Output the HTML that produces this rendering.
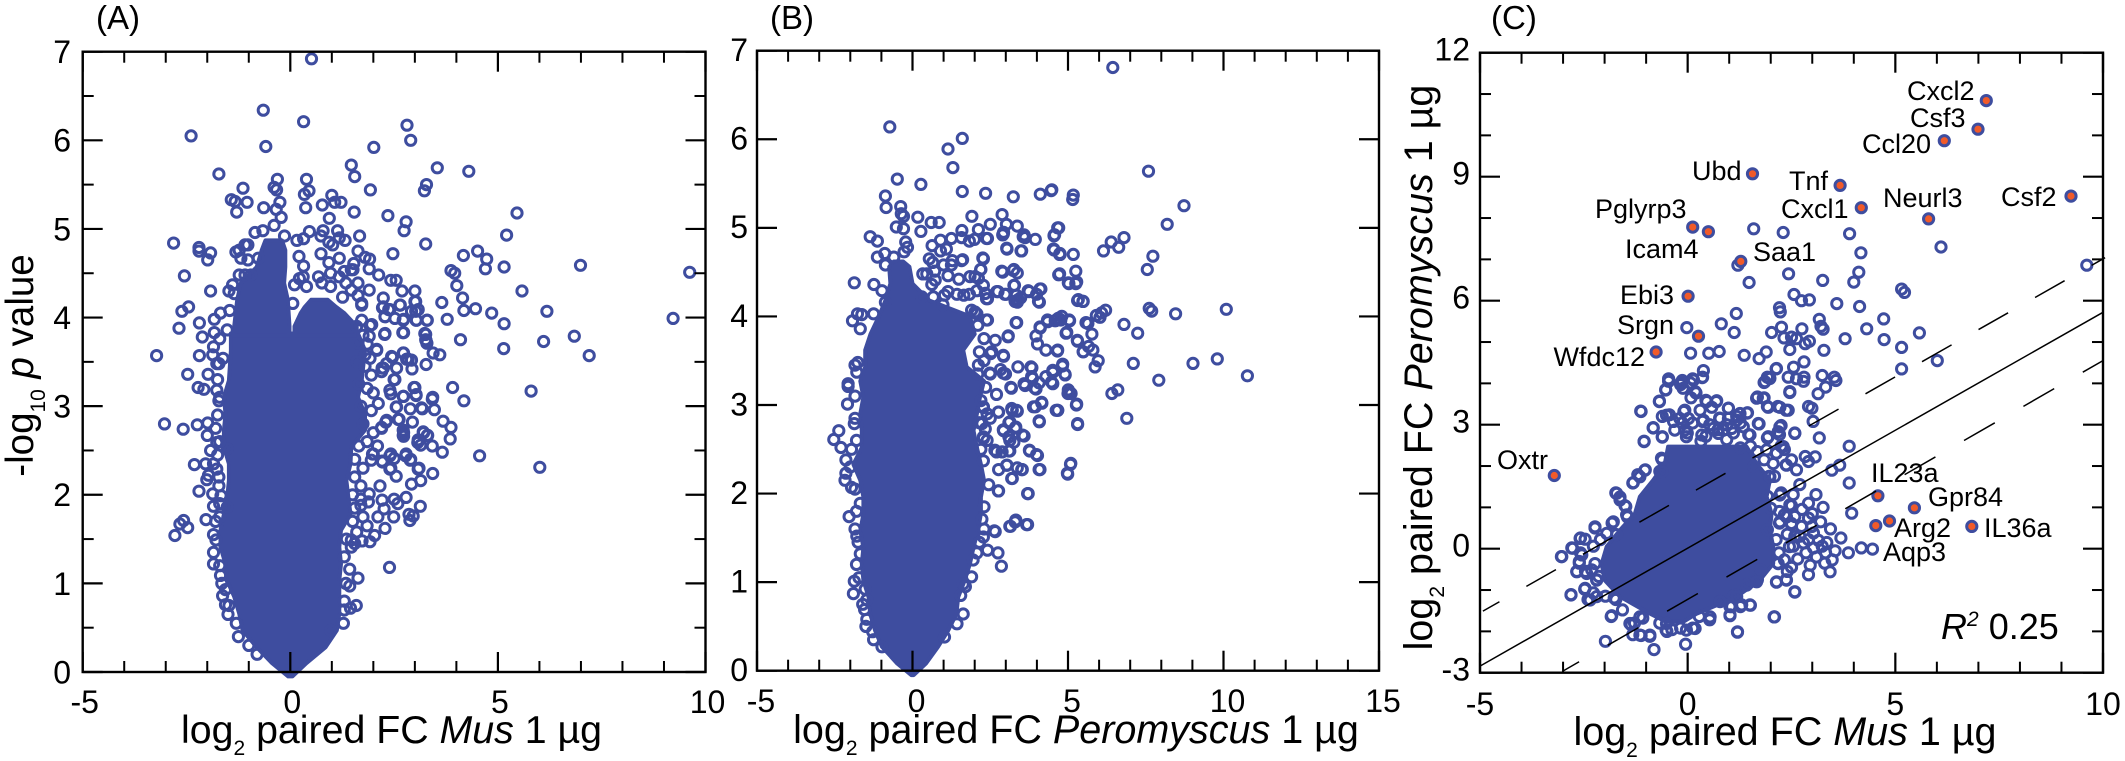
<!DOCTYPE html>
<html lang="en">
<head>
<meta charset="utf-8">
<title>Volcano and correlation plots</title>
<style>
html,body{margin:0;padding:0;background:#fff;}
svg{display:block;font-family:"Liberation Sans",sans-serif;fill:#000;}
</style>
</head>
<body>
<svg id="figure" xmlns="http://www.w3.org/2000/svg" width="2125" height="761" viewBox="0 0 2125 761">
  <rect x="0" y="0" width="2125" height="761" fill="#fff"/>
  <g id="marks"></g>

  <text x="96" y="29" font-size="33">(A)</text>
  <text x="770" y="29" font-size="33">(B)</text>
  <text x="1491" y="29" font-size="33">(C)</text>

  <text transform="rotate(-90 33 365.5)" x="33" y="365.5" text-anchor="middle" font-size="38.5">-log<tspan font-size="21" dy="12">10</tspan><tspan dy="-12"> </tspan><tspan font-style="italic">p</tspan> value</text>
  <text x="391.5" y="743" text-anchor="middle" font-size="39.3">log<tspan font-size="21" dy="12">2</tspan><tspan dy="-12"> paired FC </tspan><tspan font-style="italic">Mus</tspan> 1 µg</text>
  <text x="1076" y="743" text-anchor="middle" font-size="39.5">log<tspan font-size="21" dy="12">2</tspan><tspan dy="-12"> paired FC </tspan><tspan font-style="italic">Peromyscus</tspan> 1 µg</text>
  <text x="1785" y="745" text-anchor="middle" font-size="39.5">log<tspan font-size="21" dy="12">2</tspan><tspan dy="-12"> paired FC </tspan><tspan font-style="italic">Mus</tspan> 1 µg</text>
  <text transform="rotate(-90 1432 367.5)" x="1432" y="367.5" text-anchor="middle" font-size="39.5">log<tspan font-size="21" dy="12">2</tspan><tspan dy="-12"> paired FC </tspan><tspan font-style="italic">Peromyscus</tspan> 1 µg</text>

  <g font-size="27">
    <text x="1907" y="100">Cxcl2</text>
    <text x="1910" y="127">Csf3</text>
    <text x="1862" y="153">Ccl20</text>
    <text x="1692" y="180">Ubd</text>
    <text x="1789" y="190">Tnf</text>
    <text x="1781" y="218">Cxcl1</text>
    <text x="1883" y="207">Neurl3</text>
    <text x="2001" y="206">Csf2</text>
    <text x="1595" y="218">Pglyrp3</text>
    <text x="1625" y="258">Icam4</text>
    <text x="1753" y="261">Saa1</text>
    <text x="1620" y="304">Ebi3</text>
    <text x="1617" y="334">Srgn</text>
    <text x="1645" y="366" text-anchor="end">Wfdc12</text>
    <text x="1497" y="469">Oxtr</text>
    <text x="1871" y="482">IL23a</text>
    <text x="1928" y="506">Gpr84</text>
    <text x="1894" y="537">Arg2</text>
    <text x="1984" y="537">IL36a</text>
    <text x="1883" y="561">Aqp3</text>
  </g>
  <text x="1941" y="639" font-size="36"><tspan font-style="italic">R</tspan><tspan font-style="italic" font-size="21" dy="-13">2</tspan><tspan dy="13"> 0.25</tspan></text>
</svg>

<script>
// ---- Panel A: Mus volcano, individually resolved points ----
const panelAX = [
 .51,-.65,.32,-2.39,-.59,2.81,2.9,2.01,1.47,1.55,
 3.54,4.3,-1.72,-.31,.39,-1.14,-.39,-.33,.45,.34,
 1.93,3.28,3.23,1.0,-1.42,-1.33,-1.04,-.25,1.07,1.22,
 .77,-.64,-.34,.37,-1.29,1.54,2.35,-.22,.94,5.46,
 2.79,2.74,-.39,5.21,-.85,-.66,.46,.79,1.14,.74,
 -.14,.16,.32,1.18,1.32,.93,1.02,1.67,3.26,-2.81,
 -2.2,-2.2,-1.92,-1.99,1.63,2.47,.74,.21,4.51,4.17,
 4.73,4.7,5.15,1.18,1.8,1.91,.93,1.53,.32,1.9,
 1.47,3.87,3.96,-2.55,2.13,2.42,2.55,4.01,2.69,3.0,
 5.58,-1.92,1.63,1.9,4.15,2.24,3.65,3.02,2.65,2.22,
 2.37,3.02,4.18,4.46,4.85,-2.45,-2.61,3.29,3.78,5.15,
 2.73,3.04,2.28,-2.19,-1.83,-2.68,-1.83,-2.12,-1.7,2.73,
 3.26,2.27,4.1,3.26,3.29,-1.85,5.14,2.08,-3.22,-2.19,
 -1.87,3.44,3.6,2.73,2.46,2.84,2.56,2.93,3.27,-2.47,
 -1.98,-1.72,2.5,6.99,9.62,6.18,9.22,6.1,6.84,7.2,
 5.8,6.01,4.56,-3.03,-2.58,-2.24,-1.99,-2.0,-1.77,-1.92,
 -1.52,-2.22,-2.08,-1.77,-1.72,3.91,4.18,3.42,3.0,3.03,
 2.73,2.42,2.55,2.89,3.18,3.47,3.68,3.87,3.85,2.6,
 2.94,2.3,2.2,2.73,2.73,3.21,3.31,3.07,3.14,3.42,
 3.66,1.98,1.95,2.21,2.4,2.5,2.78,2.89,3.08,2.4,
 2.55,3.43,3.14,2.92,2.16,1.9,2.79,2.5,2.21,2.59,
 1.88,2.26,3.13,1.7,2.49,2.86,2.96,2.88,2.11,2.28,
 2.03,1.92,1.73,1.47,1.47,2.39,1.63,1.43,1.34,1.43,
 1.59,1.45,1.28,.97,-2.31,-2.04,-1.85,-2.01,-1.97,-1.77,
 -1.72,-2.2,-1.87,-1.67,-1.85,-1.52,-1.7,-2.03,-2.57,-2.66,
 -2.47,-2.78,-1.79,-1.85,-1.68,-1.56,-1.63,-1.56,-1.48,.39,
 .31,.76,.97,1.18,1.3,1.51,1.63,1.72,1.47,.22,
 .1,.68,.97,1.26,.06,1.34,-1.23,-1.09,-1.02,-1.31,
 -1.19,-1.02,-.77,-1.23,-1.09,-.95,-1.39,-1.48,-1.35,-1.46,
 -1.68,-1.52,-1.62,-1.77,1.92,1.72,1.63,1.8,1.92,2.21
];
const panelAY = [
 6.92,6.34,6.21,6.05,5.93,6.17,6.0,5.92,5.72,5.59,
 5.69,5.65,5.62,5.56,5.56,5.46,5.47,5.44,5.43,5.39,
 5.44,5.5,5.43,5.38,5.33,5.31,5.3,5.3,5.3,5.3,
 5.27,5.24,5.22,5.24,5.19,5.19,5.15,5.13,5.12,5.18,
 5.08,4.98,5.04,4.93,4.96,4.98,4.97,4.98,4.98,4.92,
 4.92,4.87,4.89,4.9,4.87,4.85,4.82,4.92,4.83,4.84,
 4.79,4.75,4.73,4.65,4.75,4.72,4.72,4.69,4.75,4.7,
 4.66,4.55,4.57,4.67,4.68,4.66,4.62,4.61,4.58,4.55,
 4.54,4.53,4.5,4.47,4.48,4.42,4.42,4.36,4.3,4.3,
 4.3,4.3,4.39,4.31,4.22,4.22,4.17,4.18,4.14,4.11,
 4.09,4.07,4.08,4.1,4.05,4.12,4.07,3.97,3.98,3.93,
 3.98,3.97,4.01,3.94,3.98,3.88,3.83,3.78,3.76,3.83,
 3.81,3.81,3.75,3.75,3.71,3.67,3.65,3.63,3.57,3.57,
 3.58,3.6,3.58,3.6,3.55,3.53,3.43,3.42,3.47,3.36,
 3.36,3.48,3.3,4.59,4.51,4.07,3.99,3.73,3.79,3.57,
 3.17,2.31,2.44,2.8,2.74,2.79,2.81,2.67,2.59,2.5,
 2.52,3.21,3.19,3.18,3.06,3.21,3.06,3.08,3.21,3.12,
 3.11,3.14,2.99,2.97,2.97,2.96,2.83,2.76,2.63,2.85,
 2.82,2.82,2.75,2.7,2.66,2.7,2.67,2.59,2.56,2.55,
 2.48,2.46,2.39,2.38,2.44,2.41,2.44,2.39,2.29,2.29,
 2.21,2.24,2.16,2.12,2.1,2.01,1.97,1.95,1.94,1.9,
 1.92,1.84,1.87,1.88,1.75,1.78,1.76,1.71,1.75,1.62,
 1.54,1.47,1.48,1.41,1.49,1.18,1.06,1.16,1.0,.97,
 .75,.72,.55,.47,2.34,2.35,2.35,2.17,2.22,2.29,
 2.1,2.04,2.01,1.99,1.87,1.86,1.75,1.72,1.71,1.67,
 1.63,1.54,1.49,1.22,1.09,.93,.86,.76,.75,4.35,
 4.46,4.39,4.5,4.46,4.52,4.54,4.25,4.16,4.31,4.44,
 4.37,4.46,4.35,4.23,4.16,4.39,4.76,4.82,4.82,4.74,
 4.67,4.65,4.67,4.48,4.48,4.48,4.37,4.3,4.27,4.08,
 4.05,3.86,3.54,3.48,3.91,3.97,3.71,3.58,3.54,3.43
];
// Panel A: further points read along the crowded right and left flanks
const panelAFlankX = [
 1.72,2.24,2.4,2.28,2.52,2.72,2.92,3.08,3.03,2.64,
 3.0,3.3,1.96,1.9,2.28,2.71,3.24,3.27,2.08,2.44,
 2.72,2.8,2.92,2.24,2.32,2.52,2.2,2.98,3.03,2.4,
 2.72,2.12,2.56,3.16,3.43,2.32,2.62,2.2,2.72,2.72,
 3.2,3.3,3.08,2.0,2.22,2.42,2.79,2.9,3.1,2.42,
 1.6,1.75,1.85,1.6,1.8,1.95,1.65,1.85,2.0,1.7,
 1.95,1.75,2.0,1.85,2.1,1.65,1.55,1.75,1.55,1.7,
 1.5,1.7,1.55,1.75,1.5,1.85,1.6,1.35,1.55,1.3,
 -1.75,-1.7,-1.75,-1.8,-1.7,-1.75,-1.72,-1.7,-1.8,-1.85,
 -1.85,-1.7,-1.65,-1.5,-1.3,-1.25,-1.0,-.8,1.3,1.3
];
const panelAFlankY = [
 4.14,4.12,4.09,4.01,3.99,3.97,4.07,4.09,3.97,4.14,
 4.18,3.97,3.92,3.79,3.82,3.83,3.82,3.74,3.64,3.56,
 3.6,3.53,3.52,3.43,3.48,3.3,3.39,3.21,3.13,3.18,
 3.11,3.03,2.99,2.98,3.1,2.84,2.85,2.76,2.73,2.67,
 2.71,2.67,2.62,2.46,2.37,2.46,2.46,2.4,2.3,2.3,
 3.9,3.8,3.7,3.5,3.45,3.35,3.25,3.2,3.15,3.0,
 2.95,2.8,2.7,2.6,2.55,2.55,2.4,2.3,2.2,2.1,
 2.0,1.95,1.85,1.75,1.7,1.65,1.58,1.5,1.45,1.3,
 3.3,3.1,2.9,2.75,2.6,2.45,2.2,1.9,1.7,1.55,
 1.35,1.2,1.0,.65,.55,.4,.3,.2,.8,.7
];
// Panel A: outline of the saturated core (y level, left x, right x)
const coreAY     = [-.05,.1,.28,.47,.66,.85,1.03,1.22,1.41,1.6,1.78,1.97,2.16,2.35,2.54,2.73,2.91,3.1,3.29,3.63,3.82];
const coreALeft  = [-.05,-.44,-.81,-1.15,-1.23,-1.35,-1.52,-1.56,-1.68,-1.68,-1.6,-1.52,-1.48,-1.48,-1.6,-1.6,-1.56,-1.6,-1.48,-1.43,-1.43];
const coreARight = [.05,.39,.85,1.12,1.18,1.18,1.18,1.22,1.18,1.22,1.45,1.4,1.35,1.45,1.47,1.8,1.8,1.63,1.72,1.8,1.63];
const lobeA1Y     = [3.8,3.9,4.2,4.39,4.57,4.76,4.87];
const lobeA1Left  = [-1.4,-1.35,-1.28,-1.19,-.81,-.69,-.6];
const lobeA1Right = [-.02,-.02,-.06,-.15,-.12,-.12,-.2];
const lobeA2Y     = [3.8,3.9,4.05,4.12,4.2];
const lobeA2Left  = [.1,.1,.25,.35,.5];
const lobeA2Right = [1.6,1.6,1.3,1.1,.9];

// ---- Panel B: Peromyscus volcano ----
const panelBX = [
 -.73,1.6,1.14,1.3,-.49,.27,1.6,2.35,3.24,4.11,
 4.46,-.87,-.85,-.38,-.36,-.29,.17,.6,.86,1.91,
 2.88,2.5,3.02,3.37,-.52,-.29,.27,1.59,2.12,2.93,
 2.9,2.41,3.59,3.62,3.95,4.67,4.57,-1.36,-1.13,1.25,
 1.58,1.83,1.99,.9,.63,-.22,-.16,-.27,1.09,.9,
 3.04,3.51,4.54,4.73,-.89,-1.13,-.6,-.87,.54,.65,
 2.28,1.58,1.28,1.0,1.25,2.2,.33,.46,.71,1.14,
 2.9,3.26,3.37,4.73,1.85,1.49,2.12,.73,.62,2.28,
 3.28,-1.87,-1.24,-.98,4.13,1.14,1.43,1.65,1.83,2.07,
 2.34,2.75,3.01,3.75,3.99,2.41,.3,.67,1.03,3.34,
 3.48,3.37,4.08,-.87,.98,1.9,2.07,2.41,-1.77,-1.63,
 -1.93,-1.68,-1.25,3.35,4.35,4.62,4.11,3.97,4.02,4.29,
 4.67,3.07,2.66,2.55,2.93,-1.76,-1.79,3.39,3.84,4.51,
 2.12,2.83,2.5,2.99,4.29,3.86,-2.07,-2.07,-2.09,-1.87,
 -2.37,-2.53,-2.3,-1.96,-2.14,-2.14,-2.17,-1.96,-1.68,-2.04,
 -1.79,-1.68,-1.87,-1.9,-1.52,-1.47,-1.54,-1.47,-1.28,-.98,
 3.18,3.62,3.97,2.7,2.28,2.77,3.21,3.37,3.95,4.16,
 4.62,4.08,2.5,2.23,3.1,3.32,3.59,2.34,2.28,2.93,
 3.1,3.26,2.7,2.88,3.13,3.77,4.02,4.1,3.53,3.37,
 3.04,2.77,3.21,2.77,3.72,2.23,2.66,3.15,3.32,3.7,
 2.28,2.41,2.75,2.86,2.07,1.9,1.63,1.63,1.43,1.03,
 2.28,6.44,7.59,4.48,5.17,5.15,8.73,8.19,4.7,4.55,
 6.8,6.39,6.63,6.14,4.55,4.75,5.17,7.73,7.55,5.25,
 4.7,5.03,5.25,5.31,5.48,7.61,7.69,8.46,10.09,6.21,
 6.08,5.91,6.03,4.59,4.77,5.05,5.64,6.8,7.24,4.94,
 5.77,5.31,5.8,5.66,5.49,4.66,5.97,5.87,7.1,4.82,
 4.91,4.51,9.02,9.8,10.77,7.92,5.03,5.0,6.41,6.6,
 5.27,4.67,6.89,5.31,5.08,4.99,4.51
];
const panelBY = [
 6.14,6.01,5.89,5.68,5.55,5.49,5.41,5.39,5.35,5.38,
 5.42,5.36,5.23,5.24,5.16,5.13,5.12,5.06,5.06,5.13,
 5.15,5.04,5.04,5.02,5.01,4.99,4.96,4.97,4.98,4.95,
 4.92,4.88,4.92,4.89,4.87,5.0,4.92,4.9,4.85,4.88,
 4.89,4.85,4.87,4.86,4.8,4.84,4.78,4.73,4.76,4.74,
 4.76,4.74,4.76,4.7,4.71,4.67,4.67,4.58,4.65,4.61,
 4.65,4.63,4.63,4.58,4.58,4.53,4.48,4.48,4.51,4.46,
 4.5,4.53,4.49,4.48,4.45,4.42,4.43,4.41,4.36,4.35,
 4.35,4.38,4.36,4.29,4.31,4.28,4.25,4.24,4.25,4.29,
 4.26,4.28,4.25,4.28,4.25,4.2,4.22,4.22,4.24,4.24,
 4.21,4.16,4.16,4.16,4.13,4.07,4.03,3.96,4.03,4.02,
 3.95,3.86,4.03,3.93,3.94,3.96,3.87,3.78,3.69,3.62,
 3.62,3.77,3.73,3.6,3.55,3.48,3.37,3.43,3.42,3.37,
 3.45,3.4,3.35,3.35,3.32,3.3,3.24,3.21,3.01,2.79,
 2.71,2.61,2.52,2.5,2.38,2.23,2.15,2.07,1.89,1.74,
 1.52,1.32,1.01,.87,.92,.8,.69,.58,.44,.27,
 3.19,3.22,3.18,3.12,2.97,2.92,2.94,2.93,2.98,3.02,
 2.94,2.81,2.85,2.79,2.8,2.75,2.65,2.73,2.62,2.71,
 2.64,2.58,2.47,2.47,2.48,2.48,2.43,2.27,2.27,2.29,
 2.32,2.27,2.17,2.03,2.0,1.71,1.57,1.63,1.7,1.65,
 1.51,1.36,1.33,1.18,1.33,1.06,.98,.64,.53,.38,
 2.37,6.81,5.64,5.43,5.37,5.32,5.25,5.04,5.0,4.91,
 4.89,4.84,4.78,4.74,4.75,4.7,4.7,4.68,4.53,4.51,
 4.47,4.37,4.37,4.18,4.17,4.09,4.06,4.03,4.08,4.07,
 4.04,4.01,3.99,3.95,3.96,3.95,3.92,3.91,3.81,3.81,
 3.8,3.72,3.62,3.66,3.6,3.61,3.5,3.43,3.47,3.44,
 3.34,3.37,3.47,3.52,3.33,3.28,3.14,3.13,3.13,3.17,
 3.0,2.94,2.85,2.78,2.33,2.22,3.24
];
// Panel B: further points read along the crowded flanks
const panelBFlankX = [
 2.38,2.92,3.56,3.03,3.49,4.56,4.53,4.74,2.26,1.61,
 2.19,2.87,3.24,5.01,5.28,3.26,2.01,2.38,2.71,2.97,
 3.72,4.1,4.05,3.4,3.3,5.33,5.49,2.01,2.38,3.33,
 3.08,2.92,4.34,4.1,4.69,4.8,5.04,4.96,5.58,5.3,
 5.49,3.81,2.51,2.49,2.92,3.16,3.59,3.94,4.07,4.51,
 4.83,4.9,4.47,3.83,5.01,5.1,5.28,5.31,4.67,3.89,
 4.15,4.07,2.76,3.19,3.35,2.28,3.13,3.3,3.54,2.92,
 3.13,2.28,2.65,3.1,3.76,3.99,4.07,3.03,3.19,3.51,
 2.76,3.7,5.09,4.98,3.13,3.3,3.67,2.63,2.1,2.3,
 2.15,2.3,2.1,2.35,2.2,2.4,2.15,2.4,2.2,-1.85,
 -1.85,-1.85,-1.8,-2.0,-1.85,-1.8,-1.85,-1.75,-1.8,-1.72,
 -1.6,-1.5,-1.25,1.55,1.7,1.95,2.15,2.3,2.3,2.45
];
const panelBFlankY = [
 4.88,4.93,4.9,4.77,4.74,4.92,4.76,4.71,4.66,4.64,
 4.53,4.51,4.52,4.38,4.39,4.35,4.45,4.2,4.28,4.25,
 4.29,4.31,4.17,4.19,4.17,4.19,4.17,4.05,3.96,3.93,
 3.78,3.56,3.96,3.88,3.98,4.0,3.96,3.82,3.93,3.73,
 3.6,3.43,3.58,3.36,3.36,3.2,3.24,3.19,3.25,3.39,
 3.46,3.35,3.26,3.32,3.17,3.13,3.01,2.79,2.94,2.98,
 3.03,2.82,2.92,2.96,2.94,2.98,2.81,2.74,2.66,2.72,
 2.6,2.64,2.49,2.48,2.49,2.44,2.27,2.32,2.17,2.27,
 2.03,2.0,2.34,2.23,1.63,1.68,1.65,1.58,3.9,3.75,
 3.6,3.5,3.35,3.2,3.05,2.9,2.8,2.6,2.5,3.45,
 3.1,2.85,2.6,2.3,2.05,1.8,1.6,1.45,1.2,1.05,
 .75,.5,.35,.85,.95,1.25,1.45,1.6,1.85,2.1
];
const coreBY     = [-.05,.08,.27,.45,.64,.83,1.02,1.21,1.39,1.58,1.77,1.96,2.15,2.33,2.52,2.71,2.9,3.09,3.27,3.43,3.62,3.8,4.0,4.18,4.37,4.56,4.62];
const coreBLeft  = [-.04,-.49,-.98,-1.2,-1.36,-1.41,-1.58,-1.63,-1.58,-1.68,-1.58,-1.58,-1.68,-1.9,-1.63,-1.63,-1.68,-1.58,-1.68,-1.52,-1.52,-1.35,-1.08,-.87,-.71,-.75,-.6];
const coreBRight = [.04,.43,.82,1.14,1.41,1.47,1.68,1.85,1.96,2.1,2.2,2.2,2.3,2.2,2.07,1.96,2.07,2.17,2.3,1.74,1.63,2.0,1.85,.54,0,-.1,-.3];

// ---- Panel C: Mus vs Peromyscus ----
const panelCX = [
 1.59,2.3,3.9,4.17,6.1,9.61,1.21,4.12,4.0,2.43,
 3.25,1.48,2.56,2.74,2.93,3.59,4.14,5.15,5.22,2.21,
 2.23,1.17,4.72,3.17,.81,-.02,1.12,2.26,2.75,3.21,
 3.26,4.31,5.58,2.02,2.5,2.32,2.62,2.93,2.83,3.79,
 4.73,5.15,2.46,3.28,.07,.51,.76,1.36,1.89,1.72,
 6.01,2.8,5.15,.38,2.55,2.13,3.24,3.53,2.8,-.46,
 -.13,.12,.36,1.92,2.42,2.62,-.46,-.17,.07,1.84,
 2.46,2.79,3.14,3.32,3.57,-.53,-.68,.2,.44,.69,
 1.68,1.84,1.92,2.17,2.37,2.91,2.99,3.02,-1.12,.98,
 1.43,-.61,-.44,-.09,1.18,1.72,2.25,2.58,3.17,-.83,
 -1.05,-.61,1.1,1.47,1.92,3.89,2.13,2.33,2.83,3.07,
 3.66,3.47,-.61,-1.02,-1.2,-1.32,-.67,2.5,2.91,2.37,
 2.62,2.09,3.89,2.7,2.54,3.09,2.25,-1.73,-1.63,-1.51,
 -1.47,2.91,3.26,2.5,3.95,2.0,2.33,2.58,2.91,2.21,
 2.5,2.74,3.44,-1.82,-2.23,-1.71,3.69,3.03,2.79,3.03,
 4.18,4.45,3.87,3.32,3.48,2.54,2.33,2.5,3.3,3.43,
 2.91,2.37,2.14,2.58,1.68,1.47,1.14,1.51,1.27,1.02,
 1.02,2.09,.53,1.2,.12,-.17,-.5,-.05,-.81,-.91,
 -1.12,-1.32,-1.36,-1.98,-1.84,-2.27,-1.77,-2.19,-3.04,-2.79,
 -2.58,-2.61,-2.58,-2.67,-2.46,-2.81,-2.48,-2.4,-.13,-.01,
 -.34,.12,.36,.53,.77,.44,.73,.94,1.27,1.51,
 1.68,2.25,2.21,.32,.94,1.27,1.84,1.96,1.59,-2.1,
 -2.27,-2.31,-2.14,-1.98,-1.73,-1.57,-1.28,-1.08,-.67,-.38,
 .28,.77,1.1,1.76,2.17,2.13,2.58,2.91,3.24,2.99,
 1.92,2.21,1.92
];
const panelCY = [
 7.74,7.65,7.62,7.16,7.3,6.86,6.86,6.69,6.45,6.65,
 6.49,6.44,6.15,6.0,6.02,5.93,5.86,6.28,6.2,5.83,
 5.73,5.69,5.56,5.55,5.44,5.35,5.23,5.36,5.32,5.38,
 5.31,5.32,5.22,5.23,5.12,5.1,5.08,5.02,4.96,5.08,
 5.06,4.87,4.82,4.8,4.73,4.73,4.77,4.68,4.76,4.6,
 4.55,4.52,4.35,4.31,4.39,4.35,4.19,4.15,4.15,4.11,
 4.07,4.11,4.15,4.15,4.15,4.11,4.05,3.97,4.01,4.02,
 3.78,4.05,3.75,3.91,4.07,3.85,3.56,3.77,3.59,3.56,
 3.67,3.65,3.44,3.44,3.35,3.44,3.4,3.08,3.32,3.4,
 3.28,3.2,3.24,3.32,3.2,3.02,2.98,2.8,2.68,2.92,
 2.6,2.7,2.8,2.76,2.68,2.48,2.31,2.4,2.23,2.22,
 2.02,1.9,2.15,1.91,1.79,1.59,1.87,2.15,2.11,2.03,
 1.91,1.75,1.59,1.55,1.31,1.31,1.35,1.35,1.25,1.04,
 .82,1.1,1.0,1.04,.86,.98,.82,.78,.74,.62,
 .58,.54,.48,.62,.5,.34,.26,.38,.14,.02,
 .02,-.01,-.1,-.1,-.27,.06,-.27,-.45,-.35,-.56,
 -.63,-.75,-.81,-1.05,-.75,-.83,-1.11,-1.37,-1.4,-1.4,
 -1.62,-1.65,-1.72,-2.02,-1.92,-1.92,-2.0,-2.31,-2.44,-2.12,
 -2.1,-2.08,-1.84,-2.24,-1.64,-1.07,-1.19,-.75,-.19,.02,
 .26,-.31,-.1,-.55,-.55,-1.11,-.98,-1.23,3.04,2.8,
 3.08,3.04,3.08,3.0,3.16,2.72,2.88,3.0,3.04,2.48,
 2.35,2.48,2.76,2.6,2.64,2.44,2.15,1.75,1.99,.22,
 .06,-.51,-.67,-1.15,-1.23,-1.48,-1.8,-1.68,-1.8,-1.96,
 -1.64,-1.27,-1.15,-.51,-.35,.22,.3,.22,.06,.54,
 .46,.9,1.27
];
// Panel C: further points read around the crowded core
const panelCRimX = [
 .35,.14,-.15,-.11,-.45,-.53,.18,.08,-.68,.46,
 .7,.58,.98,-1.13,1.26,1.44,-.51,-.07,-.19,.02,
 .3,.38,.78,.98,1.18,1.7,-.83,-.31,-.07,.62,
 .86,1.06,1.34,-.61,-1.05,-.03,.34,.74,1.5,1.94,
 2.22,2.18,-.63,-.61,-1.03,-1.15,-1.31,-1.71,-1.63,-1.49,
 -1.45,-1.79,-2.23,-2.59,-2.47,-2.77,-3.03,-2.55,-2.61,-2.67,
 -2.43,-2.47,-2.81,-2.35,-2.19,-2.19,-2.23,-1.95,-1.83,-1.39,
 -1.15,-1.15,-.91,-.52,-.51,-.03,.18,.54,1.02,1.2,
 2.08,1.5,1.3,1.06,1.18,.78,1.42,1.66,2.14,2.38,
 2.58,2.5,2.18,2.46,2.38,2.22,2.5,2.22,2.06,2.38,
 2.14,2.3,1.9,1.98,1.66,1.82,1.94,2.22,2.42,1.86,
 1.98,2.14,2.46,2.58,2.75,3.0,2.4,2.7,3.15,2.85,
 3.1,2.65,2.2,2.45,3.2,3.35,3.55,2.95,2.4
];
const panelCRimY = [
 4.14,4.08,4.02,3.88,4.07,3.84,3.8,3.65,3.57,3.56,
 3.58,3.42,3.4,3.33,3.27,3.29,3.23,3.35,3.15,3.15,
 3.35,3.11,3.15,3.15,3.11,3.03,2.93,2.87,2.87,2.91,
 2.87,2.91,2.95,2.71,2.59,2.71,2.75,2.79,2.75,2.71,
 2.95,2.83,2.19,1.86,1.9,1.74,1.6,1.34,1.18,1.02,
 .77,.65,.53,.25,.23,.01,-.19,-.15,-.35,-.56,
 -.6,-.96,-1.12,-1.24,-1.16,-.76,-.36,.37,-1.62,-1.81,
 -1.65,-2.09,-2.09,-1.97,-1.81,-1.97,-1.93,-1.65,-1.6,-2.01,
 -1.65,-1.36,-1.36,-1.4,-1.16,-1.28,-.88,-.8,-.8,-.76,
 -1.04,-.44,-.36,1.06,.77,.65,.61,1.3,2.06,2.02,
 2.31,2.47,2.39,1.74,3.64,3.64,3.42,3.42,3.35,4.04,
 4.12,4.36,3.8,2.79,.95,.85,.35,.3,.2,-.1,
 -.2,-.25,-.1,.05,.65,.15,-.05,-.4,-.55
];
const coreCY     = [-1.77,-1.57,-1.16,-.76,-.36,.05,.45,.85,1.26,1.66,2.06,2.47];
const coreCLeft  = [-.51,-.91,-1.63,-2.0,-2.07,-1.95,-1.63,-1.27,-1.15,-.83,-.55,-.47];
const coreCRight = [-.11,.22,1.18,1.74,2.06,2.06,1.98,2.02,1.9,1.98,1.66,1.42];

// Highlighted genes in panel C
const geneNames = ["Cxcl2","Csf3","Ccl20","Ubd","Tnf","Csf2","Cxcl1","Neurl3","Pglyrp3","Icam4","Saa1","Ebi3","Srgn","Wfdc12","Oxtr","IL23a","Gpr84","Arg2","Aqp3","IL36a"];
const geneX = [7.19,6.99,6.18,1.56,3.67,9.23,4.18,5.8,.12,.5,1.28,.01,.26,-.76,-3.21,4.58,5.46,4.86,4.53,6.84];
const geneY = [10.84,10.15,9.87,9.07,8.79,8.53,8.25,7.98,7.78,7.67,6.95,6.11,5.14,4.76,1.77,1.28,.99,.67,.56,.54];

// Regression and confidence lines in panel C
const fitLineX = [-5,10];
const fitLineY = [-2.84,5.72];
const upperLineX = [-4.93,10.05];
const upperLineY = [-1.51,7.04];
const lowerLineX = [-3.02,10];
const lowerLineY = [-2.97,4.55];

// Axis ticks
const aXMajor = [-5,0,5,10];
const aXMinor = [-4,-3,-2,-1,1,2,3,4,6,7,8,9];
const aYMajor = [0,1,2,3,4,5,6,7];
const aYMinor = [.5,1.5,2.5,3.5,4.5,5.5,6.5];
const bXMajor = [-5,0,5,10,15];
const bXMinor = [-4,-3,-2,-1,1,2,3,4,6,7,8,9,11,12,13,14];
const bYMajor = [0,1,2,3,4,5,6,7];
const bYMinor = [];
const cXMajor = [-5,0,5,10];
const cXMinor = [-4,-3,-2,-1,1,2,3,4,6,7,8,9];
const cYMajor = [-3,0,3,6,9,12];
const cYMinor = [-2,-1,1,2,4,5,7,8,10,11];

const svgNS = "http://www.w3.org/2000/svg";
const BLUE = "#3e4d9f";
const ORANGE = "#f15a29";
const marks = document.getElementById("marks");

function makeScale(d0, d1, p0, p1) {
  return function (v) { return p0 + (v - d0) / (d1 - d0) * (p1 - p0); };
}
const panelA = { name:"panel-a", left:82.7, right:705.5, top:51.7, bottom:672, sx:makeScale(-5,10,82.7,705.5), sy:makeScale(0,7,672,51.7) };
const panelB = { name:"panel-b", left:757, right:1379, top:50.7, bottom:670.7, sx:makeScale(-5,15,757,1379), sy:makeScale(0,7,670.7,50.7) };
const panelC = { name:"panel-c", left:1480, right:2103, top:52.7, bottom:672.7, sx:makeScale(-5,10,1480,2103), sy:makeScale(-3,12,672.7,52.7) };

function drawCore(panel, ys, lefts, rights) {
  let d = "";
  for (let i = 0; i < ys.length; i++) {
    d += (i ? "L" : "M") + panel.sx(lefts[i]).toFixed(1) + " " + panel.sy(ys[i]).toFixed(1);
  }
  for (let i = ys.length - 1; i >= 0; i--) {
    d += "L" + panel.sx(rights[i]).toFixed(1) + " " + panel.sy(ys[i]).toFixed(1);
  }
  d += "Z";
  const p = document.createElementNS(svgNS, "path");
  
  
  p.setAttribute("d", d);
  p.setAttribute("fill", BLUE);
  p.setAttribute("stroke", BLUE);
  p.setAttribute("stroke-width", "4");
  p.setAttribute("stroke-linejoin", "round");
  marks.appendChild(p);
}

function drawPoints(panel, xs, ys) {
  const n = Math.min(xs.length, ys.length);
  for (let i = 0; i < n; i++) {
    const c = document.createElementNS(svgNS, "circle");
    
    
    c.setAttribute("cx", panel.sx(xs[i]).toFixed(1));
    c.setAttribute("cy", panel.sy(ys[i]).toFixed(1));
    c.setAttribute("r", "5.1");
    c.setAttribute("fill", "none");
    c.setAttribute("stroke", BLUE);
    c.setAttribute("stroke-width", "3");
    marks.appendChild(c);
  }
}

function drawGenes(panel) {
  for (let i = 0; i < geneX.length; i++) {
    const c = document.createElementNS(svgNS, "circle");
    
    
    c.setAttribute("cx", panel.sx(geneX[i]).toFixed(1));
    c.setAttribute("cy", panel.sy(geneY[i]).toFixed(1));
    c.setAttribute("r", "5.1");
    c.setAttribute("fill", ORANGE);
    c.setAttribute("stroke", BLUE);
    c.setAttribute("stroke-width", "3");
    marks.appendChild(c);
  }
}

function drawLine(panel, xs, ys, dash, offset) {
  const l = document.createElementNS(svgNS, "line");
  
  
  l.setAttribute("x1", panel.sx(xs[0]).toFixed(1));
  l.setAttribute("y1", panel.sy(ys[0]).toFixed(1));
  l.setAttribute("x2", panel.sx(xs[1]).toFixed(1));
  l.setAttribute("y2", panel.sy(ys[1]).toFixed(1));
  l.setAttribute("stroke", "#000");
  l.setAttribute("stroke-width", "1.5");
  if (dash) {
    l.setAttribute("stroke-dasharray", dash);
    l.setAttribute("stroke-dashoffset", offset);
  }
  marks.appendChild(l);
}

function tick(x1, y1, x2, y2, w) {
  const l = document.createElementNS(svgNS, "line");
  
  
  l.setAttribute("x1", x1);
  l.setAttribute("y1", y1);
  l.setAttribute("x2", x2);
  l.setAttribute("y2", y2);
  l.setAttribute("stroke", "#000");
  l.setAttribute("stroke-width", w);
  marks.appendChild(l);
}

function label(text, x, y, anchor) {
  const t = document.createElementNS(svgNS, "text");
  
  
  t.setAttribute("x", x);
  t.setAttribute("y", y);
  t.setAttribute("text-anchor", anchor);
  t.setAttribute("font-size", "32");
  t.textContent = text;
  marks.appendChild(t);
}

function drawAxes(panel, xMajor, xMinor, yMajor, yMinor, yLabelX, yLabelDy, xLabelBase, xLabelDx) {
  const f = document.createElementNS(svgNS, "rect");
  
  
  f.setAttribute("x", panel.left);
  f.setAttribute("y", panel.top);
  f.setAttribute("width", panel.right - panel.left);
  f.setAttribute("height", panel.bottom - panel.top);
  f.setAttribute("fill", "none");
  f.setAttribute("stroke", "#000");
  f.setAttribute("stroke-width", "2.4");
  marks.appendChild(f);
  xMajor.forEach(function (v) {
    const x = panel.sx(v);
    tick(x, panel.bottom, x, panel.bottom - 20, 2.2);
    tick(x, panel.top, x, panel.top + 20, 2.2);
    label(String(v), x + xLabelDx, xLabelBase, "middle");
  });
  xMinor.forEach(function (v) {
    const x = panel.sx(v);
    tick(x, panel.bottom, x, panel.bottom - 11, 2);
    tick(x, panel.top, x, panel.top + 11, 2);
  });
  yMajor.forEach(function (v) {
    const y = panel.sy(v);
    tick(panel.left, y, panel.left + 20, y, 2.2);
    tick(panel.right, y, panel.right - 20, y, 2.2);
    label(String(v), yLabelX, y + 11.4 + yLabelDy, "end");
  });
  yMinor.forEach(function (v) {
    const y = panel.sy(v);
    tick(panel.left, y, panel.left + 11, y, 2);
    tick(panel.right, y, panel.right - 11, y, 2);
  });
}

drawCore(panelA, coreAY, coreALeft, coreARight);
drawCore(panelA, lobeA1Y, lobeA1Left, lobeA1Right);
drawCore(panelA, lobeA2Y, lobeA2Left, lobeA2Right);
drawPoints(panelA, panelAX, panelAY);
drawPoints(panelA, panelAFlankX, panelAFlankY);
drawAxes(panelA, aXMajor, aXMinor, aYMajor, aYMinor, 71, 0, 713, 2);

drawCore(panelB, coreBY, coreBLeft, coreBRight);
drawPoints(panelB, panelBX, panelBY);
drawPoints(panelB, panelBFlankX, panelBFlankY);
drawAxes(panelB, bXMajor, bXMinor, bYMajor, bYMinor, 748, -1, 712, 4);

drawCore(panelC, coreCY, coreCLeft, coreCRight);
drawPoints(panelC, panelCX, panelCY);
drawPoints(panelC, panelCRimX, panelCRimY);
drawGenes(panelC);
drawLine(panelC, fitLineX, fitLineY);
drawLine(panelC, upperLineX, upperLineY, "34 31", 15);
drawLine(panelC, lowerLineX, lowerLineY, "35.5 33", 16);
drawAxes(panelC, cXMajor, cXMinor, cYMajor, cYMinor, 1470, -3.5, 715, 0);
</script>
</body>
</html>
